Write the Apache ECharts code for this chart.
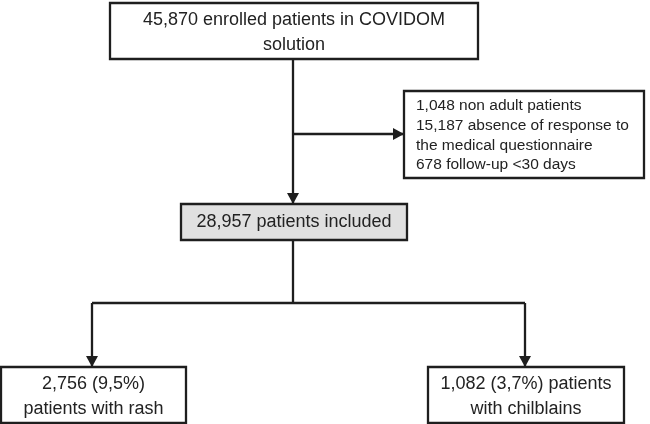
<!DOCTYPE html>
<html><head><meta charset="utf-8">
<script src="https://cdn.jsdelivr.net/npm/echarts@6/dist/echarts.min.js"></script>
<style>html,body{margin:0;padding:0;background:#fff}#c{width:650px;height:424px}</style>
</head><body><div id="c"></div>
<script>
// ---- data ----
const nodeTexts = [
  '45,870 enrolled patients in COVIDOM\nsolution',
  '1,048 non adult patients\n15,187 absence of response to\nthe medical questionnaire\n678 follow-up <30 days',
  '28,957 patients included',
  '2,756 (9,5%)\npatients with rash',
  '1,082 (3,7%) patients\nwith chilblains'
];
// ---- layout (x0, y0, x1, y1 in chart units) ----
const nodeBoxes = [[110,3,478,59],[404,91,644,178],[181,204,407,240],[1,367,186,423],[428,367,624,423]];
const nodeAlign = ['center','left','center','center','center'];
const nodeFill = ['#ffffff','#ffffff','#e0e0e0','#ffffff','#ffffff'];
const nodeFont = [18,15.5,18,18,18];
const nodeLineH = [25,19.7,25,25,25];
const nodeDy = [2,1,0,2,2];
const edgePaths = [
  [[293,59],[293,204]],
  [[293,134],[404,134]],
  [[293,240],[293,303]],
  [[92,303],[525,303]],
  [[92,303],[92,367]],
  [[525,303],[525,367]]
];
const edgeArrow = [true,true,false,false,true,true];

const ink = '#1e1e1e';
const fam = '"Liberation Sans", Arial, Helvetica, sans-serif';
const chart = echarts.init(document.getElementById('c'), null, {renderer:'canvas'});
chart.setOption({
  animation:false,
  backgroundColor:'#fff',
  grid:{left:0,right:0,top:0,bottom:0},
  xAxis:{type:'value',min:0,max:650,show:false},
  yAxis:{type:'value',min:0,max:424,inverse:true,show:false},
  series:[
    {
      type:'custom', coordinateSystem:'cartesian2d', clip:false, z:2,
      data: edgePaths.map((p,i)=>[p[0][0],p[0][1],i]),
      renderItem:function(params, api){
        const i = api.value(2);
        const pts = edgePaths[i].map(p=>api.coord(p));
        const children = [{type:'polyline', shape:{points:pts}, style:{stroke:ink, lineWidth:2.3, fill:null}}];
        if (edgeArrow[i]) {
          const a = pts[pts.length-2], b = pts[pts.length-1];
          const dx = b[0]-a[0], dy = b[1]-a[1], L = Math.hypot(dx,dy);
          const ux = dx/L, uy = dy/L, len = 11, hw = 6;
          const bx = b[0]-ux*len, by = b[1]-uy*len;
          children.push({type:'polygon', shape:{points:[[b[0],b[1]],[bx-uy*hw,by+ux*hw],[bx+uy*hw,by-ux*hw]]}, style:{fill:ink}});
        }
        return {type:'group', children};
      }
    },
    {
      type:'custom', coordinateSystem:'cartesian2d', clip:false, z:3,
      data: nodeBoxes.map((b,i)=>[b[0],b[1],i]),
      renderItem:function(params, api){
        const i = api.value(2);
        const b = nodeBoxes[i];
        const p0 = api.coord([b[0],b[1]]), p1 = api.coord([b[2],b[3]]);
        const cx = (p0[0]+p1[0])/2, cy = (p0[1]+p1[1])/2 + nodeDy[i];
        const tx = nodeAlign[i]==='left' ? p0[0]+12 : cx;
        return {type:'group', children:[
          {type:'rect', shape:{x:p0[0],y:p0[1],width:p1[0]-p0[0],height:p1[1]-p0[1]}, style:{fill:nodeFill[i], stroke:ink, lineWidth:2.3}},
          {type:'text', x:tx, y:cy, style:{text:nodeTexts[i], fill:'#222222', font:nodeFont[i]+'px '+fam, align:nodeAlign[i], verticalAlign:'middle', lineHeight:nodeLineH[i]}}
        ]};
      }
    }
  ]
});
</script>
</body></html>
